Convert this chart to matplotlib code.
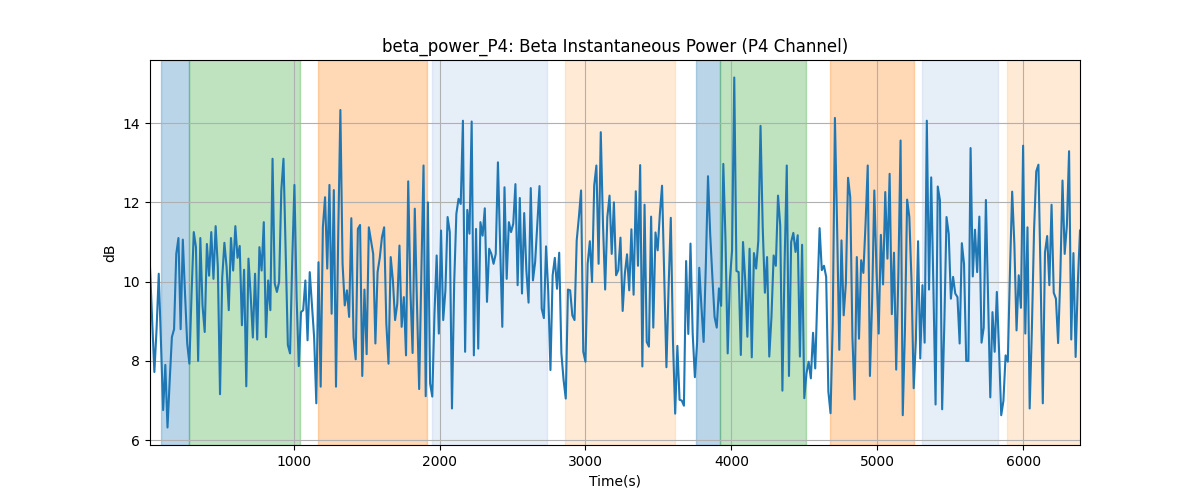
import matplotlib
matplotlib.use("Agg")
import matplotlib.pyplot as plt
import numpy as np

# --- Dados ---
STEP = 15

power_db = [
    # 0 - 52
    10.37, 9.0, 7.72, 8.8, 10.2, 8.5, 6.76, 7.9, 6.32, 7.5, 8.6, 8.8, 10.7, 11.1, 8.8, 11.06,
    9.7, 8.44, 7.93, 9.7, 11.25, 10.87, 8.0, 11.1, 9.4, 8.73, 10.95, 10.15, 11.25, 10.07, 11.4,
    10.37, 7.16, 10.1, 10.98, 10.37, 9.28, 11.1, 10.28, 11.4, 10.6, 10.9, 8.9, 10.3, 7.36, 10.58,
    9.66, 8.59, 10.2, 8.54, 10.87, 10.28, 11.5,
    # 53 - 105
    8.6, 10.03, 9.28, 13.1, 9.95, 9.74, 9.99, 12.3, 13.1, 10.8, 8.4, 8.19, 10.53, 12.44, 9.6,
    7.87, 9.23, 9.28, 10.03, 8.52, 10.24, 9.44, 8.6, 6.93, 10.49, 7.35, 11.37, 12.13, 10.33,
    12.44, 9.19, 12.31, 7.35, 11.12, 14.33, 10.45, 9.4, 9.78, 9.11, 11.6, 8.6, 8.04, 11.33,
    11.43, 7.62, 9.8, 8.17, 11.37, 11.04, 10.7, 8.44, 10.24, 10.6,
    # 106 - 157
    11.12, 11.37, 8.94, 7.93, 10.62, 10.03, 9.03, 9.44, 10.91, 8.86, 9.61, 8.14, 12.53, 9.78,
    8.2, 11.84, 9.44, 7.29, 10.2, 12.93, 7.11, 12.0, 7.43, 7.1, 9.19, 10.66, 8.69, 11.29, 9.03,
    9.78, 11.63, 11.25, 6.8, 9.95, 11.71, 12.09, 11.96, 14.06, 8.23, 11.81, 11.21, 14.04, 8.14,
    11.33, 8.31, 11.5, 11.16, 11.85, 9.49, 10.83, 10.7, 10.45,
    # 158 - 209
    10.7, 13.01, 10.9, 8.86, 12.38, 10.07, 11.5, 11.25, 11.46, 12.46, 9.91, 12.11, 9.7, 11.73,
    10.28, 9.47, 12.36, 10.03, 10.49, 11.46, 12.41, 9.32, 9.08, 10.89, 9.74, 7.77, 10.16, 10.6,
    9.82, 10.73, 8.19, 7.52, 7.05, 9.8, 9.78, 9.15, 9.03, 11.04, 11.63, 12.3, 8.23, 7.98, 10.45,
    11.02, 9.99, 12.43, 12.93, 10.45, 13.77, 11.46, 9.8, 11.63,
    # 210 - 262
    12.17, 10.7, 12.0, 10.16, 10.29, 11.11, 9.26, 10.2, 10.69, 9.78, 11.32, 9.67, 12.28, 10.4,
    12.94, 7.86, 11.94, 8.48, 8.36, 11.64, 8.84, 11.24, 10.79, 11.71, 12.42, 10.12, 7.84, 9.87,
    11.61, 8.48, 6.67, 8.38, 7.02, 7.0, 6.87, 10.52, 8.68, 10.96, 8.69, 7.59, 8.44, 10.35, 9.36,
    8.48, 10.4, 12.66, 11.2, 10.12, 9.11, 8.84, 9.83, 9.39, 12.97,
    # 263 - 315
    11.04, 8.19, 10.04, 10.79, 15.15, 10.27, 10.24, 8.15, 11.0, 10.04, 8.61, 10.83, 8.09, 10.72,
    10.33, 11.04, 13.93, 11.38, 9.72, 10.62, 8.11, 9.11, 10.66, 10.4, 12.17, 11.42, 7.25, 10.46,
    12.93, 7.62, 11.0, 11.23, 10.75, 11.17, 8.11, 10.93, 7.06, 7.69, 7.98, 7.56, 8.71, 7.81, 9.7,
    11.35, 10.29, 10.4, 10.12, 7.23, 6.68, 8.95, 14.13, 11.38, 8.28,
    # 316 - 368
    11.04, 9.15, 9.95, 12.62, 12.13, 8.6, 7.03, 10.62, 8.56, 10.54, 10.22, 11.46, 12.93, 7.62,
    9.5, 12.3, 10.28, 8.69, 11.18, 9.93, 12.26, 10.58, 12.72, 9.18, 10.73, 7.78, 10.2, 13.56,
    6.63, 8.77, 12.07, 11.63, 10.03, 7.31, 8.52, 11.02, 8.06, 9.91, 8.46, 14.06, 9.8, 12.63,
    9.86, 6.9, 12.4, 12.05, 6.78, 8.94, 11.63, 11.21, 9.57, 10.12, 9.7,
    # 369 - 425
    9.61, 8.44, 10.97, 10.45, 8.0, 8.0, 13.37, 10.13, 11.31, 10.24, 11.64, 8.46, 8.84, 12.06,
    9.61, 7.08, 9.23, 8.23, 9.74, 8.27, 6.63, 6.99, 8.14, 7.98, 10.28, 12.27, 10.95, 8.77, 10.16,
    9.34, 13.43, 8.69, 11.37, 6.8, 8.77, 11.29, 12.78, 12.95, 10.12, 6.93, 10.74, 11.15, 9.91,
    11.94, 9.72, 9.57, 8.45, 10.12, 12.55, 10.7, 11.42, 13.29, 8.54, 10.72, 8.1, 9.95, 11.29,
]

time_s = STEP * np.arange(1, len(power_db) + 1)

# fases (início, fim, cor, alpha)
span_starts = [90, 285, 1170, 1945, 2860, 3760, 3925, 4675, 5310, 5890]
span_ends = [285, 1045, 1915, 2735, 3615, 3925, 4515, 5250, 5825, 6500]
span_colors = ["tab:blue", "tab:green", "tab:orange", "#aec7e8", "#ffbb78",
               "tab:blue", "tab:green", "tab:orange", "#aec7e8", "#ffbb78"]

fig, ax = plt.subplots(figsize=(12, 5))
for s, e, c in zip(span_starts, span_ends, span_colors):
    ax.axvspan(s, e, color=c, alpha=0.3)

ax.plot(time_s, power_db, color="tab:blue", linewidth=1.5)
ax.set_xlim(time_s[0], time_s[-1])
ax.set_title("beta_power_P4: Beta Instantaneous Power (P4 Channel)")
ax.set_xlabel("Time(s)")
ax.set_ylabel("dB")
ax.grid(True)

plt.savefig("out.png", dpi=100)
